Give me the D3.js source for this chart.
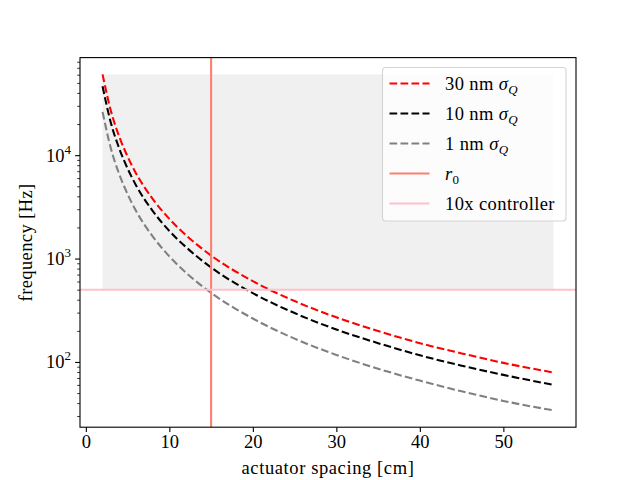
<!DOCTYPE html>
<html lang="en">
<head>
    <meta charset="UTF-8">
    <title>Actuator spacing</title>
    <script src="https://d3js.org/d3.v7.min.js"></script>
    <style>
        body { margin: 0; background: #fff; }
        text { font-family: "Liberation Serif", "DejaVu Serif", serif; fill: #000; }
    </style>
</head>
<body>
<script>
    const width  = 640;
    const height = 480;
    const mLeft = 80, mRight = 576, mTop = 57.6, mBottom = 427.2;
    const fontSize = "18.5px";

    // values
    const spacing  = [2, 3, 4, 5, 6, 8, 10, 12, 15, 20, 25, 30, 35, 40, 45, 50, 56];
    const freq30nm = [60400, 26800, 15100, 9700, 6700, 3780, 2420, 1680, 1070, 605, 388, 270, 199, 152, 121, 98, 79];
    const freq10nm = [46300, 20500, 11600, 7420, 5130, 2890, 1850, 1290, 820, 463, 297, 206, 152, 116, 92, 75, 60];
    const freq1nm  = [26200, 11600, 6550, 4200, 2900, 1640, 1050, 730, 466, 263, 168, 117, 86, 66, 52, 42, 34];
    const r0 = 15;
    const controller = 500;
    const xTicks = [0, 10, 20, 30, 40, 50];
    const yTicks = [100, 1000, 10000];

    const series = [
        {label: "30 nm", values: freq30nm, color: "red"},
        {label: "10 nm", values: freq10nm, color: "black"},
        {label: "1 nm",  values: freq1nm,  color: "gray"}
    ];

    const svg = d3.select("body")
            .append("svg")
            .attr("width", width)
            .attr("height", height);

    // matplotlib style 5% margins
    const xPad = (d3.max(spacing) - d3.min(spacing)) * 0.05;
    const x = d3.scaleLinear()
            .domain([d3.min(spacing) - xPad, d3.max(spacing) + xPad])
            .range([mLeft, mRight]);

    const allY = freq30nm.concat(freq10nm, freq1nm);
    const lo = Math.log10(d3.min(allY)), hi = Math.log10(d3.max(allY));
    const yPad = (hi - lo) * 0.05;
    const y = d3.scaleLog()
            .domain([Math.pow(10, lo - yPad), Math.pow(10, hi + yPad)])
            .range([mBottom, mTop]);

    // shaded region
    svg.append("rect")
            .attr("x", x(d3.min(spacing)))
            .attr("width", x(d3.max(spacing)) - x(d3.min(spacing)))
            .attr("y", y(d3.max(freq30nm)))
            .attr("height", y(controller) - y(d3.max(freq30nm)))
            .style("fill", "#f0f0f0");

    const line = d3.line()
            .x((d, i) => x(spacing[i]))
            .y(d => y(d))
            .curve(d3.curveMonotoneX);

    series.forEach(s => {
        svg.append("path")
                .datum(s.values)
                .attr("d", line)
                .style("fill", "none")
                .style("stroke", s.color)
                .style("stroke-width", 2.08)
                .style("stroke-dasharray", "7.7,3.3");
    });

    svg.append("line")
            .attr("x1", x(r0)).attr("x2", x(r0))
            .attr("y1", mTop).attr("y2", mBottom)
            .style("stroke", "salmon").style("stroke-width", 2.08);

    svg.append("line")
            .attr("x1", mLeft).attr("x2", mRight)
            .attr("y1", y(controller)).attr("y2", y(controller))
            .style("stroke", "pink").style("stroke-width", 2.08);

    // axes
    const xAxis = svg.append("g")
            .attr("transform", "translate(0," + mBottom + ")")
            .call(d3.axisBottom(x).tickValues(xTicks).tickSize(4.9).tickPadding(3));
    xAxis.select(".domain").remove();
    xAxis.attr("font-family", null).attr("font-size", null);
    xAxis.selectAll("text").style("font-size", fontSize);
    xAxis.selectAll("line").style("stroke-width", 1.1);

    const minor = [];
    [10, 100, 1000, 10000].forEach(p => {
        for (let k = 2; k < 10; k++) {
            const v = p * k;
            if (v > y.domain()[0] && v < y.domain()[1]) minor.push(v);
        }
    });
    const yMinor = svg.append("g")
            .attr("transform", "translate(" + mLeft + ",0)")
            .call(d3.axisLeft(y).tickValues(minor).tickSize(2.8).tickFormat(""));
    yMinor.select(".domain").remove();
    yMinor.selectAll("line").style("stroke-width", 0.8);

    const yAxis = svg.append("g")
            .attr("transform", "translate(" + mLeft + ",0)")
            .call(d3.axisLeft(y).tickValues(yTicks).tickSize(4.9).tickFormat(""));
    yAxis.select(".domain").remove();
    yAxis.selectAll("line").style("stroke-width", 1.1);

    yTicks.forEach(v => {
        const t = svg.append("text")
                .attr("x", mLeft - 9)
                .attr("y", y(v) + 6.5)
                .attr("text-anchor", "end")
                .style("font-size", fontSize);
        t.append("tspan").text("10");
        t.append("tspan").attr("dy", -8).style("font-size", "13px").text(Math.log10(v));
    });

    svg.append("rect")
            .attr("x", mLeft).attr("y", mTop)
            .attr("width", mRight - mLeft).attr("height", mBottom - mTop)
            .style("fill", "none").style("stroke", "#000").style("stroke-width", 1.1);

    svg.append("text")
            .attr("x", (mLeft + mRight) / 2)
            .attr("y", 474)
            .attr("text-anchor", "middle")
            .style("font-size", fontSize)
            .style("letter-spacing", "0.6px")
            .text("actuator spacing [cm]");

    svg.append("text")
            .attr("transform", "translate(32," + (mTop + mBottom) / 2 + ") rotate(-90)")
            .attr("text-anchor", "middle")
            .style("font-size", fontSize)
            .style("letter-spacing", "0.4px")
            .text("frequency [Hz]");

    // legend
    const legend = svg.append("g");
    legend.append("rect")
            .attr("x", 382.5).attr("y", 67.5)
            .attr("width", 183.5).attr("height", 153.5)
            .attr("rx", 3)
            .style("fill", "#fff").style("fill-opacity", 0.8)
            .style("stroke", "#d4d4d4").style("stroke-width", 1.1);

    const entries = series.map(s => ({color: s.color, dash: "7.7,3.3", label: s.label, sigma: true}))
            .concat([{color: "salmon", dash: null, r0: true},
                     {color: "pink", dash: null, label: "10x controller"}]);

    entries.forEach((e, i) => {
        const cy = 83.5 + i * 30;
        legend.append("line")
                .attr("x1", 389.5).attr("x2", 429.5)
                .attr("y1", cy).attr("y2", cy)
                .style("stroke", e.color).style("stroke-width", 2.08)
                .style("stroke-dasharray", e.dash);
        const t = legend.append("text")
                .attr("x", 445).attr("y", cy + 6)
                .style("font-size", fontSize)
                .style("letter-spacing", "0.4px");
        if (e.sigma) {
            t.append("tspan").text(e.label + " ");
            t.append("tspan").style("font-style", "italic").text("σ");
            t.append("tspan").attr("dy", 4).style("font-size", "13px").style("font-style", "italic").text("Q");
        } else if (e.r0) {
            t.append("tspan").style("font-style", "italic").text("r");
            t.append("tspan").attr("dy", 4).style("font-size", "13px").text("0");
        } else {
            t.text(e.label);
        }
    });
</script>
</body>
</html>
